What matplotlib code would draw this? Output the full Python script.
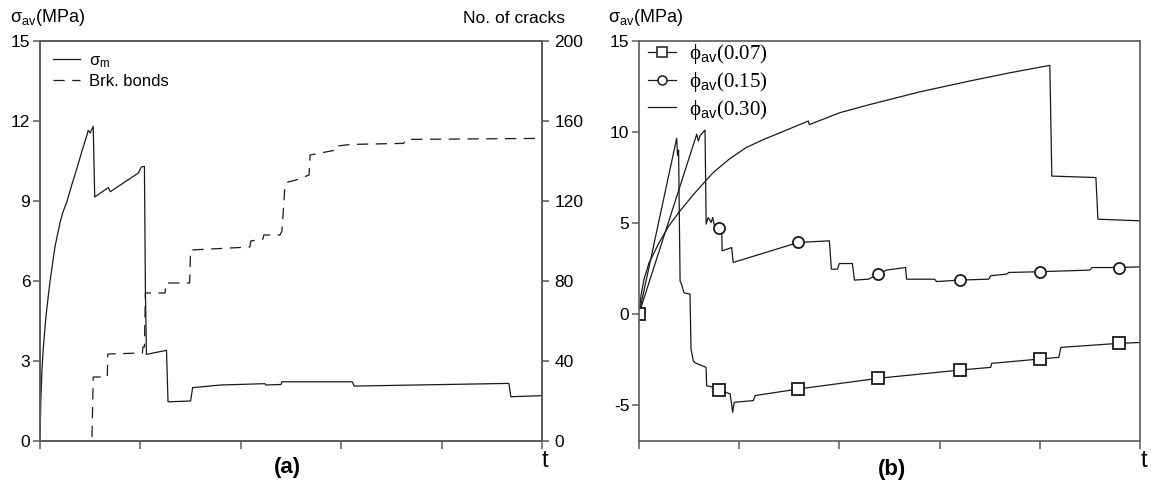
import numpy as np
import matplotlib
matplotlib.use("Agg")
import matplotlib.pyplot as plt
from matplotlib.lines import Line2D

plt.rcParams['font.family'] = ['Liberation Sans', 'DejaVu Sans']
plt.rcParams['mathtext.fontset'] = 'custom'
plt.rcParams['mathtext.rm'] = 'Liberation Sans'
plt.rcParams['mathtext.default'] = 'regular'
plt.rcParams['axes.unicode_minus'] = False

# ---- panel (a): average stress and number of broken bonds ----
t_sig = [0.0, 0.008, 0.02, 0.033, 0.06, 0.10, 0.15, 0.20, 0.23, 0.27, 0.32, 0.37,
         0.42, 0.47, 0.48, 0.50, 0.53, 0.545, 0.68, 0.70, 0.98, 1.01, 1.04, 1.05,
         1.06, 1.26, 1.275, 1.50, 1.52, 1.80, 2.24, 2.25, 2.40, 2.41, 3.11, 3.13,
         4.67, 4.69, 5.0]
sig_m = [0.0, 1.5, 2.7, 3.5, 4.7, 6.0, 7.3, 8.2, 8.6, 9.0, 9.65, 10.25,
         10.9, 11.5, 11.65, 11.55, 11.8, 9.15, 9.5, 9.35, 10.05, 10.28, 10.3, 5.6,
         3.25, 3.4, 1.47, 1.5, 2.0, 2.1, 2.15, 2.1, 2.12, 2.22, 2.22, 2.06,
         2.16, 1.66, 1.7]

t_brk = [0.518, 0.53, 0.67, 0.675, 1.02, 1.025, 1.04, 1.05, 1.245, 1.255, 1.49,
         1.50, 2.09, 2.10, 2.22, 2.23, 2.39, 2.41, 2.44, 2.47, 2.55, 2.68, 2.69,
         2.95, 2.96, 3.10, 3.62, 3.65, 4.98]
n_brk = [2, 32, 32, 43.5, 44, 47, 47, 74, 74, 79, 79,
         95.5, 97, 100, 101, 103, 103, 105, 128, 129.5, 130.5, 133, 143,
         145.5, 147.5, 148.3, 148.8, 150.8, 151.3]

# ---- panel (b): average stress for three volume fractions ----
t_07 = [0.0, 0.376, 0.385, 0.395, 0.41, 0.426, 0.449, 0.509, 0.519, 0.542, 0.56,
        0.669, 0.675, 0.75, 0.80, 0.91, 0.935, 0.95, 1.14, 1.16, 1.59, 2.39, 3.20,
        3.51, 3.52, 4.0, 4.19, 4.21, 4.79, 5.0]
s_07 = [0.0, 9.65, 8.7, 9.0, 1.8, 1.6, 1.15, 1.08, -1.94, -2.58, -2.7,
        -2.95, -3.96, -4.05, -4.19, -4.41, -5.42, -4.87, -4.78, -4.5, -4.14, -3.55, -3.1,
        -2.95, -2.73, -2.49, -2.4, -1.85, -1.63, -1.58]

t_15 = [0.0, 0.576, 0.592, 0.61, 0.659, 0.67, 0.69, 0.72, 0.735, 0.76, 0.80, 0.825,
        0.83, 0.925, 0.94, 1.59, 1.90, 1.92, 1.98, 2.0, 2.13, 2.15, 2.29, 2.39,
        2.47, 2.66, 2.67, 2.95, 2.97, 3.20, 3.49, 3.51, 3.67, 3.69, 4.0, 4.50,
        4.52, 4.79, 5.0]
s_15 = [0.0, 9.87, 9.5, 9.8, 10.1, 4.93, 5.29, 5.02, 5.29, 4.65, 4.74, 4.7,
        3.46, 3.64, 2.82, 3.92, 4.01, 2.45, 2.45, 2.76, 2.76, 1.85, 1.9, 2.18,
        2.4, 2.54, 1.9, 1.9, 1.77, 1.85, 1.9, 2.09, 2.18, 2.27, 2.31, 2.4,
        2.54, 2.54, 2.58]

t_30 = [0.0, 0.02, 0.05, 0.10, 0.20, 0.30, 0.41, 0.55, 0.74, 0.90, 1.07, 1.25, 1.41,
        1.69, 1.70, 2.00, 2.30, 2.80, 3.30, 3.70, 4.10, 4.12, 4.56, 4.58, 5.0]
s_30 = [0.0, 1.0, 1.9, 2.8, 3.9, 4.85, 5.66, 6.6, 7.76, 8.5, 9.14, 9.6, 9.96,
        10.6, 10.4, 11.05, 11.5, 12.2, 12.8, 13.25, 13.66, 7.57, 7.49, 5.2, 5.11]

t_marks = [0.0, 0.80, 1.59, 2.39, 3.20, 4.0, 4.79]

LC = '#1a1a1a'
SC = '#5a5a5a'

fig = plt.figure(figsize=(11.51, 4.86), dpi=100)
axa = fig.add_axes([40 / 1151, 1 - 441 / 486, 502 / 1151, 400 / 486])
axb = fig.add_axes([639 / 1151, 1 - 441 / 486, 501 / 1151, 400 / 486])


def style_axis(ax):
    for sp in ax.spines.values():
        sp.set_color(SC)
        sp.set_linewidth(1.2)
    ax.tick_params(direction='out', length=5, width=1.1, color=SC,
                   labelsize=12.5, pad=2)
    ax.set_xlim(0, 5)
    ax.set_xticks(np.arange(0, 6))
    ax.set_xticklabels([])
    ax.tick_params(axis='x', length=6)


# panel (a)
style_axis(axa)
l_sig, = axa.plot(t_sig, sig_m, color=LC, lw=0.9)
axa.set_ylim(0, 15)
axa.set_yticks(np.arange(0, 16, 3))

axc = axa.twinx()
style_axis(axc)
l_brk, = axc.plot(t_brk, n_brk, color=LC, lw=0.9, dashes=(9, 6))
axc.set_ylim(0, 200)
axc.set_yticks(np.arange(0, 201, 40))
axc.tick_params(axis='y', pad=4)

axa.legend([l_sig, l_brk], ['σ$_{\\rm m}$', 'Brk. bonds'], loc='upper left',
           bbox_to_anchor=(0.025, 0.97), frameon=False, fontsize=12,
           handlelength=1.65, handletextpad=0.55, labelspacing=0.25,
           borderaxespad=0, borderpad=0)

fig.text(10 / 1151, 1 - 22 / 486, 'σ$_{\\rm av}$(MPa)', fontsize=13, ha='left', va='baseline')
fig.text(565 / 1151, 1 - 23 / 486, 'No. of cracks', fontsize=12.5, ha='right', va='baseline')
fig.text(287 / 1151, 1 - 467 / 486, '(a)', fontsize=16, fontweight='bold', ha='center', va='center')
fig.text(545 / 1151, 1 - 461 / 486, 't', fontsize=17, ha='center', va='center')

# panel (b)
style_axis(axb)
mk = dict(mfc='white', mec=LC, mew=1.3, ms=8)
l_30, = axb.plot(t_30, s_30, color=LC, lw=0.9)
l_15, = axb.plot(t_15, s_15, color=LC, lw=0.9)
l_07, = axb.plot(t_07, s_07, color=LC, lw=0.9)
axb.plot(t_marks[1:], np.interp(t_marks[1:], t_15, s_15), ls='none', marker='o', **mk)
axb.plot(t_marks, np.interp(t_marks, t_07, s_07), ls='none', marker='s', **mk)
axb.set_ylim(-7, 15)
axb.set_yticks([-5, 0, 5, 10, 15])

h07 = Line2D([], [], color=LC, lw=0.9, marker='s', ms=6.5, mfc='white', mec=LC, mew=1.1)
h15 = Line2D([], [], color=LC, lw=0.9, marker='o', ms=6.5, mfc='white', mec=LC, mew=1.1)
axb.legend([h07, h15, l_30], ['ϕ$_{\\rm av}$(0.07)', 'ϕ$_{\\rm av}$(0.15)', 'ϕ$_{\\rm av}$(0.30)'],
           loc='upper left', bbox_to_anchor=(0.018, 0.997), frameon=False,
           prop={'family': ['Liberation Serif', 'DejaVu Serif'], 'size': 15},
           handlelength=1.35, handletextpad=0.6, labelspacing=0.18,
           borderaxespad=0, borderpad=0)

fig.text(608 / 1151, 1 - 22 / 486, 'σ$_{\\rm av}$(MPa)', fontsize=13, ha='left', va='baseline')
fig.text(892 / 1151, 1 - 469 / 486, '(b)', fontsize=16, fontweight='bold', ha='center', va='center')
fig.text(1144 / 1151, 1 - 461 / 486, 't', fontsize=17, ha='center', va='center')

fig.savefig('out.png', dpi=100)
